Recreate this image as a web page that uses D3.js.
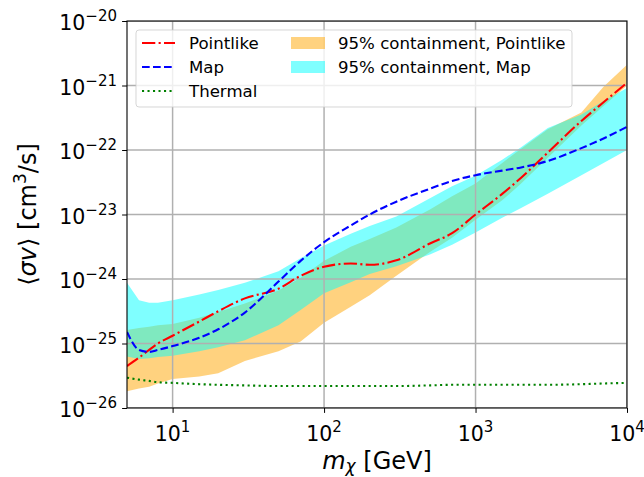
<!DOCTYPE html>
<html>
<head>
<meta charset="utf-8">
<title>sigma v limits</title>
<style type="text/css">
    html, body {
        margin: 0;
        background: #fff;
    }
    svg text {
        font-family: "DejaVu Sans", sans-serif;
        fill: #000;
    }
</style>
</head>
<body>
<svg id="chart" width="644" height="477"></svg>

<script src="https://cdn.jsdelivr.net/npm/d3@7"></script>
<script>
    "use strict";

    // dark matter mass [GeV]
    const masses = [5, 6, 7, 8, 10, 15, 20, 30, 50, 70, 100, 150, 200, 300, 500, 700,
        1000, 1500, 2000, 3000, 5000, 7000, 10000];

    // <sigma v> upper limits [cm^3/s]
    const pointlike = [4.47e-26, 6.03e-26, 7.94e-26, 1.0e-25, 1.32e-25, 2.19e-25, 3.16e-25, 5.01e-25,
        7.08e-25, 1.12e-24, 1.55e-24, 1.74e-24, 1.66e-24, 1.95e-24, 3.55e-24, 5.13e-24,
        1.0e-23, 2.09e-23, 3.72e-23, 9.12e-23, 2.82e-22, 5.50e-22, 1.10e-21];
    const mapLimit = [1.51e-25, 7.94e-26, 7.41e-26, 7.94e-26, 9.12e-26, 1.23e-25, 1.66e-25, 3.02e-25,
        9.12e-25, 1.91e-24, 3.72e-24, 6.76e-24, 1.0e-23, 1.58e-23, 2.51e-23, 3.31e-23,
        4.07e-23, 4.79e-23, 5.37e-23, 6.76e-23, 1.07e-22, 1.51e-22, 2.29e-22];
    const thermal = [2.95e-26, 2.75e-26, 2.63e-26, 2.51e-26, 2.45e-26, 2.34e-26, 2.29e-26, 2.24e-26,
        2.19e-26, 2.19e-26, 2.19e-26, 2.19e-26, 2.19e-26, 2.19e-26, 2.24e-26, 2.29e-26,
        2.29e-26, 2.29e-26, 2.29e-26, 2.29e-26, 2.34e-26, 2.40e-26, 2.45e-26];

    // 95% containment bands
    const pointLow = [1.82e-26, 2.00e-26, 2.14e-26, 2.40e-26, 2.82e-26, 3.09e-26, 3.47e-26, 5.37e-26,
        7.59e-26, 1.07e-25, 2.09e-25, 3.72e-25, 5.62e-25, 1.12e-24, 2.63e-24, 4.37e-24,
        8.32e-24, 1.66e-23, 3.02e-23, 7.59e-23, 2.40e-22, 4.79e-22, 1.00e-21];
    const pointHigh = [1.62e-25, 1.74e-25, 1.82e-25, 1.91e-25, 2.00e-25, 2.51e-25, 3.09e-25, 4.17e-25,
        6.61e-25, 1.05e-24, 1.91e-24, 3.16e-24, 4.17e-24, 6.31e-24, 1.20e-23, 1.91e-23,
        3.02e-23, 6.31e-23, 1.05e-22, 2.09e-22, 3.80e-22, 9.55e-22, 2.09e-21];
    const mapLow = [6.31e-26, 5.75e-26, 5.89e-26, 6.17e-26, 6.46e-26, 7.59e-26, 8.71e-26, 1.12e-25,
        1.91e-25, 3.31e-25, 6.03e-25, 8.91e-25, 1.20e-24, 1.58e-24, 2.40e-24, 3.39e-24,
        5.25e-24, 8.91e-24, 1.26e-23, 2.09e-23, 4.07e-23, 6.31e-23, 1.00e-22];
    const mapHigh = [8.71e-25, 4.68e-25, 4.27e-25, 4.27e-25, 4.68e-25, 5.75e-25, 6.76e-25, 8.71e-25,
        1.32e-24, 2.09e-24, 3.31e-24, 5.01e-24, 6.61e-24, 9.33e-24, 1.78e-23, 2.75e-23,
        3.98e-23, 7.08e-23, 1.10e-22, 2.19e-22, 3.55e-22, 5.75e-22, 9.12e-22];

    const xMajor = [10, 100, 1000, 10000];
    const yMajor = [1e-26, 1e-25, 1e-24, 1e-23, 1e-22, 1e-21, 1e-20];

    const margin = {left: 127, right: 17, top: 21, bottom: 69},
        width = 644 - margin.left - margin.right,
        height = 477 - margin.top - margin.bottom;

    const svg = d3.select("#chart");

    const x = d3.scaleLog().domain([5, 1e4]).range([0, width]);
    const y = d3.scaleLog().domain([1e-26, 1e-20]).range([height, 0]);

    const g = svg.append("g")
        .attr("transform", "translate(" + margin.left + "," + margin.top + ")");

    g.append("clipPath").attr("id", "clip")
        .append("rect").attr("width", width).attr("height", height);

    // minor ticks: 2..9 per decade
    function minors(lo, hi) {
        let out = [];
        for (let e = Math.floor(Math.log10(lo)); e < Math.ceil(Math.log10(hi)); e++) {
            for (let k = 2; k <= 9; k++) {
                let v = k * Math.pow(10, e);
                if (v >= lo * 0.999 && v <= hi * 1.001) out.push(v);
            }
        }
        return out;
    }

    // bands
    const band = (lo, hi) => d3.area()
        .x((d, i) => x(masses[i]))
        .y0((d, i) => y(lo[i]))
        .y1((d, i) => y(hi[i]));

    const plot = g.append("g").attr("clip-path", "url(#clip)");

    plot.append("path")
        .datum(masses)
        .attr("d", band(pointLow, pointHigh))
        .attr("fill", "#ffa500")
        .attr("fill-opacity", 0.5);

    plot.append("path")
        .datum(masses)
        .attr("d", band(mapLow, mapHigh))
        .attr("fill", "#00ffff")
        .attr("fill-opacity", 0.5);

    // grid
    plot.append("g").selectAll("line.gx")
        .data(xMajor)
        .join("line")
        .attr("x1", d => x(d)).attr("x2", d => x(d))
        .attr("y1", 0).attr("y2", height)
        .attr("stroke", "#b0b0b0").attr("stroke-width", 1.5);

    plot.append("g").selectAll("line.gy")
        .data(yMajor)
        .join("line")
        .attr("y1", d => y(d)).attr("y2", d => y(d))
        .attr("x1", 0).attr("x2", width)
        .attr("stroke", "#b0b0b0").attr("stroke-width", 1.5);

    // lines
    const series = [
        {name: "Pointlike", values: pointlike, color: "#ff0000", dash: "13.3,3.3,2.1,3.3"},
        {name: "Map", values: mapLimit, color: "#0000ff", dash: "7.7,3.3"},
        {name: "Thermal", values: thermal, color: "#008000", dash: "2.1,3.4"}
    ];

    const line = vals => d3.line()
        .x((d, i) => x(masses[i]))
        .y((d, i) => y(vals[i]))
        .curve(d3.curveMonotoneX);

    series.forEach(s => {
        plot.append("path")
            .datum(s.values)
            .attr("d", line(s.values))
            .attr("fill", "none")
            .attr("stroke", s.color)
            .attr("stroke-width", 2.1)
            .attr("stroke-dasharray", s.dash);
    });

    // axes
    const xAxis = g.append("g").attr("transform", "translate(0," + height + ")");
    xAxis.call(d3.axisBottom(x).tickValues(minors(5, 1e4)).tickSize(2.8).tickFormat(""));
    xAxis.call(d3.axisBottom(x).tickValues(xMajor).tickSize(4.9).tickFormat(""));

    const yAxis = g.append("g");
    yAxis.call(d3.axisLeft(y).tickValues(minors(1e-26, 1e-20)).tickSize(2.8).tickFormat(""));
    yAxis.call(d3.axisLeft(y).tickValues(yMajor).tickSize(4.9).tickFormat(""));

    g.selectAll(".domain").remove();
    g.selectAll(".tick line").attr("stroke", "#000").attr("stroke-width", 1);

    // x tick labels 10^n
    const xl = g.append("g").selectAll("text")
        .data(xMajor)
        .join("text")
        .attr("x", d => x(d))
        .attr("y", height + 33)
        .attr("text-anchor", "middle")
        .attr("font-size", 20.5);
    xl.append("tspan").text("10");
    xl.append("tspan").attr("dy", -9).attr("font-size", 15)
        .text(d => Math.round(Math.log10(d)));

    // y tick labels 10^-n
    const yl = g.append("g").selectAll("text")
        .data(yMajor)
        .join("text")
        .attr("x", -10)
        .attr("y", d => y(d) + 9)
        .attr("text-anchor", "end")
        .attr("font-size", 20.5);
    yl.append("tspan").text("10");
    yl.append("tspan").attr("dy", -9).attr("font-size", 15)
        .text(d => "\u2212" + Math.abs(Math.round(Math.log10(d))));

    // frame
    g.append("rect")
        .attr("width", width).attr("height", height)
        .attr("fill", "none").attr("stroke", "#000").attr("stroke-width", 1.1);

    // axis labels
    const xt = svg.append("text")
        .attr("x", margin.left + width / 2)
        .attr("y", 469)
        .attr("text-anchor", "middle")
        .attr("font-size", 24);
    xt.append("tspan").attr("font-style", "italic").text("m");
    xt.append("tspan").attr("font-style", "italic").attr("font-size", 17).attr("dy", 3).text("\u03c7");
    xt.append("tspan").attr("dy", -3).text(" [GeV]");

    const yt = svg.append("text")
        .attr("transform", "translate(36," + (margin.top + height / 2) + ") rotate(-90)")
        .attr("text-anchor", "middle")
        .attr("font-size", 24);
    yt.append("tspan").text("\u27e8");
    yt.append("tspan").attr("font-style", "italic").text("\u03c3v");
    yt.append("tspan").text("\u27e9 [cm");
    yt.append("tspan").attr("font-size", 17).attr("dy", -10).text("3");
    yt.append("tspan").attr("dy", 10).text("/s]");

    // legend
    const leg = svg.append("g");
    leg.append("rect")
        .attr("x", 136).attr("y", 30)
        .attr("width", 436).attr("height", 77)
        .attr("rx", 3)
        .attr("fill", "#fff").attr("fill-opacity", 0.8)
        .attr("stroke", "#cccccc").attr("stroke-opacity", 0.8);

    const rowY = [43, 67, 91];
    series.forEach((s, i) => {
        leg.append("line")
            .attr("x1", 142).attr("x2", 175)
            .attr("y1", rowY[i]).attr("y2", rowY[i])
            .attr("stroke", s.color).attr("stroke-width", 2.1)
            .attr("stroke-dasharray", s.dash);
        leg.append("text")
            .attr("x", 189).attr("y", rowY[i] + 6)
            .attr("font-size", 16.6)
            .text(s.name);
    });

    const bands = [
        {name: "95% containment, Pointlike", color: "#ffa500"},
        {name: "95% containment, Map", color: "#00ffff"}
    ];
    bands.forEach((b, i) => {
        leg.append("rect")
            .attr("x", 291).attr("y", rowY[i] - 6)
            .attr("width", 34).attr("height", 12)
            .attr("fill", b.color).attr("fill-opacity", 0.5);
        leg.append("text")
            .attr("x", 338).attr("y", rowY[i] + 6)
            .attr("font-size", 16.6)
            .text(b.name);
    });
</script>
</body>
</html>
